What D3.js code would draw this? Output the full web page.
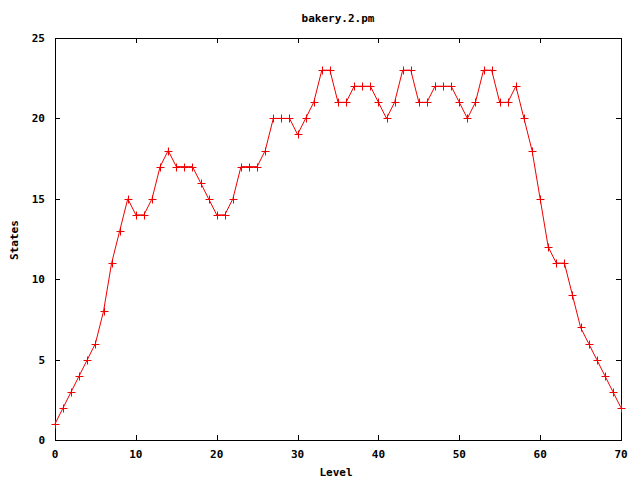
<!DOCTYPE html>
<html lang="en">
<head>
    <meta charset="utf-8">
    <title>bakery.2.pm</title>
    <style type="text/css">
        body { margin: 0; background: #fff; }
        text { font-family: 'DejaVu Sans Mono', 'Liberation Mono', monospace; font-size: 11px; font-weight: bold; fill: #000; }
    </style>
    <script type="text/javascript" src="https://cdn.jsdelivr.net/npm/d3@7/dist/d3.min.js"></script>
</head>
<body>
    <script type="text/javascript">
        var levels = d3.range(0, 71);
        var states = [1, 2, 3, 4, 5, 6, 8, 11, 13, 15,
            14, 14, 15, 17, 18, 17, 17, 17, 16, 15,
            14, 14, 15, 17, 17, 17, 18, 20, 20, 20,
            19, 20, 21, 23, 23, 21, 21, 22, 22, 22,
            21, 20, 21, 23, 23, 21, 21, 22, 22, 22,
            21, 20, 21, 23, 23, 21, 21, 22, 20, 18,
            15, 12, 11, 11, 9, 7, 6, 5, 4, 3,
            2];
        var xTicks = [0, 10, 20, 30, 40, 50, 60, 70];
        var yTicks = [0, 5, 10, 15, 20, 25];

        var svgW = 640, svgH = 480;
        // plot box (avoid "top" - it clashes with window.top)
        var padL = 55, padR = 621, padT = 38, padB = 440;
        var tickLen = 5;
        var red = "#f00000";

        var svg = d3.select("body").append("svg")
            .attr("width", svgW)
            .attr("height", svgH);

        var x = d3.scaleLinear().domain([0, 70]).range([padL, padR]);
        var y = d3.scaleLinear().domain([0, 25]).range([padB, padT]);

        /* TICKS (inward, mirrored) */
        var ticks = svg.append("g").attr("stroke", "#000").attr("stroke-width", 1);
        xTicks.forEach(function (t) {
            var px = Math.round(x(t)) + 0.5;
            ticks.append("line").attr("x1", px).attr("x2", px).attr("y1", padB).attr("y2", padB - tickLen);
            ticks.append("line").attr("x1", px).attr("x2", px).attr("y1", padT).attr("y2", padT + tickLen);
            svg.append("text").text(t)
                .attr("x", x(t)).attr("y", 458)
                .attr("text-anchor", "middle");
        });
        yTicks.forEach(function (t) {
            var py = Math.round(y(t)) + 0.5;
            ticks.append("line").attr("x1", padL).attr("x2", padL + tickLen).attr("y1", py).attr("y2", py);
            ticks.append("line").attr("x1", padR).attr("x2", padR - tickLen).attr("y1", py).attr("y2", py);
            svg.append("text").text(t)
                .attr("x", 45).attr("y", y(t) + 4)
                .attr("text-anchor", "end");
        });

        /* FRAME */
        svg.append("rect")
            .attr("x", padL + 0.5).attr("y", padT + 0.5)
            .attr("width", padR - padL).attr("height", padB - padT)
            .attr("fill", "none").attr("stroke", "#000").attr("stroke-width", 1);

        /* LINE */
        var line = d3.line()
            .x(function (d, i) { return x(levels[i]); })
            .y(function (d) { return y(d); });
        svg.append("path")
            .datum(states)
            .attr("d", line)
            .attr("fill", "none")
            .attr("stroke", red)
            .attr("stroke-width", 1);

        /* POINTS */
        var pts = svg.append("g");
        states.forEach(function (d, i) {
            var px = Math.round(x(levels[i])) + 0.5;
            var py = Math.round(y(d)) + 0.5;
            pts.append("path")
                .attr("d", "M" + (px - 4) + "," + py + "H" + (px + 4) + "M" + px + "," + (py - 4) + "V" + (py + 4))
                .attr("fill", "none")
                .attr("stroke", red)
                .attr("stroke-width", 1);
        });

        /* LABELS */
        svg.append("text").text("bakery.2.pm")
            .attr("x", 338).attr("y", 22)
            .attr("text-anchor", "middle");
        svg.append("text").text("Level")
            .attr("x", 336).attr("y", 476)
            .attr("text-anchor", "middle");
        svg.append("text").text("States")
            .attr("transform", "translate(18,240) rotate(-90)")
            .attr("text-anchor", "middle");
    </script>
</body>
</html>
